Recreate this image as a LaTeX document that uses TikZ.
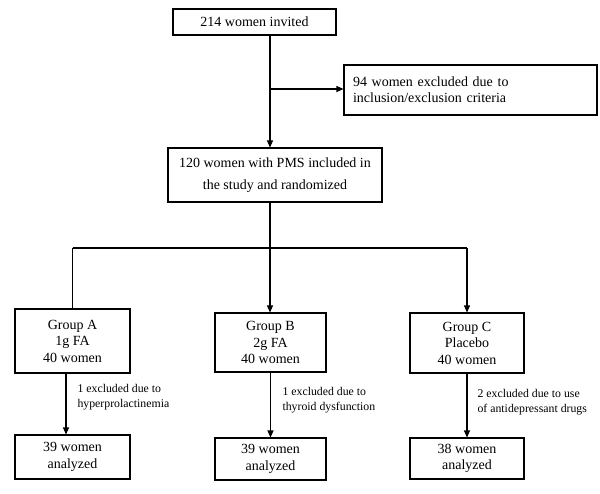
\documentclass[tikz,border=0pt]{standalone}
\usepackage{fontspec}
\setmainfont{Liberation Serif}
\usetikzlibrary{arrows.meta}
\newlength{\du}
\setlength{\du}{15\unitlength}
\tikzset{
  flowbox/.style={draw, inner sep=0pt, align=center, font=\fontsize{14}{16.5}\selectfont},
  flownote/.style={anchor=west, inner sep=0pt, align=left, font=\fontsize{11.8}{15}\selectfont},
  flowarrow/.style={-{Triangle[length=7pt,width=6pt]}}
}
\begin{document}
\begin{tikzpicture}
\pgftransformxscale{1.000000}
\pgftransformyscale{-1.000000}
\definecolor{dialinecolor}{rgb}{0.000000, 0.000000, 0.000000}
\pgfsetstrokecolor{dialinecolor}
\pgfsetlinewidth{0.070000\du}
\useasboundingbox (0.000000\du,0.000000\du) rectangle (40.000000\du,32.933333\du);
% screening
\node[flowbox, minimum width=10.866667\du, minimum height=1.733333\du] (invited) at (16.966667\du,1.466667\du){214 women invited};
\node[flowbox, align=left, minimum width=16.866667\du, minimum height=3.333333\du, text width=15.666667\du, font=\fontsize{14}{16}\selectfont] (excluded) at (31.366667\du,6.000000\du){94 women excluded due to\\inclusion/exclusion criteria};
\node[flowbox, minimum width=14.266667\du, minimum height=3.600000\du, font=\fontsize{14}{22}\selectfont] (randomized) at (18.333333\du,11.666667\du){120 women with PMS included in\\the study and randomized};
\coordinate (trunk) at (18.000000\du,5.933333\du);
\coordinate (split) at (18.000000\du,16.533333\du);
\draw (invited.south -| trunk)--(trunk);
\draw[flowarrow] (trunk)--(excluded.west |- trunk);
\draw[flowarrow] (trunk)--(randomized.north -| trunk);
% groups
\node[flowbox, minimum width=7.666667\du, minimum height=4.266667\du] (groupA) at (4.833333\du,22.733333\du){Group A\\1g FA\\40 women};
\node[flowbox, minimum width=7.400000\du, minimum height=3.933333\du] (groupB) at (18.033333\du,22.833333\du){Group B\\2g FA\\40 women};
\node[flowbox, minimum width=7.600000\du, minimum height=4.000000\du] (groupC) at (31.133333\du,22.866667\du){Group C\\Placebo\\40 women};
\draw (randomized.south -| split)--(split);
\draw (groupA.north |- split)--(groupC.north |- split);
\draw (groupA.north |- split)--(groupA.north);
\draw[flowarrow] (split)--(groupB.north -| split);
\draw[flowarrow] (groupC.north |- split)--(groupC.north);
% analyzed
\node[flowbox, minimum width=7.666667\du, minimum height=2.933333\du] (analyzedA) at (4.833333\du,30.466667\du){39 women\\analyzed};
\node[flowbox, minimum width=7.400000\du, minimum height=2.800000\du] (analyzedB) at (18.033333\du,30.600000\du){39 women\\analyzed};
\node[flowbox, minimum width=7.600000\du, minimum height=2.733333\du] (analyzedC) at (31.133333\du,30.566667\du){38 women\\analyzed};
\draw[flowarrow] ([xshift=-0.433333\du]groupA.south)--([xshift=-0.433333\du]analyzedA.north);
\draw[flowarrow] (groupB.south)--(analyzedB.north);
\draw[flowarrow] (groupC.south)--(analyzedC.north);
\node[flownote] (noteA) at (5.133333\du,26.500000\du){1 excluded due to\\hyperprolactinemia};
\node[flownote] (noteB) at (18.800000\du,26.666667\du){1 excluded due to\\thyroid dysfunction};
\node[flownote] (noteC) at (31.800000\du,26.800000\du){2 excluded due to use\\of antidepressant drugs};
\end{tikzpicture}
\end{document}
